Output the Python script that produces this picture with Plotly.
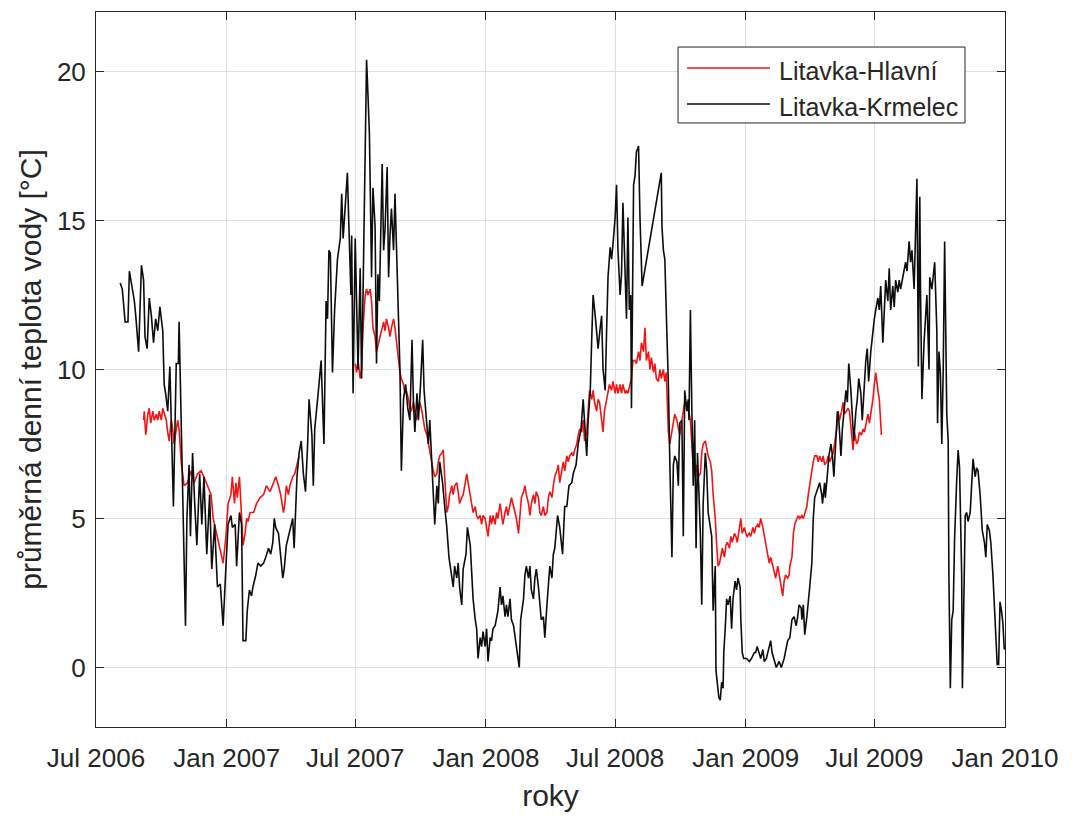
import pandas as pd
import plotly.graph_objects as go

# Daily mean water temperature, sampled every few days.
# Days are counted from the start of the record (1 Jul 2006).
ORIGIN = "2006-07-01"

krmelec_day = [
    34, 37, 41, 45, 47, 51, 54, 56, 60, 64, 67, 69, 72, 75, 78, 81, 84, 87, 90, 94,
    96, 98, 101, 104, 107, 109, 113, 116, 117, 120, 122, 124, 126, 128, 131, 133, 136, 139, 142, 146,
    149, 152, 156, 160, 163, 167, 171, 175, 179, 183, 186, 190, 192, 196, 198, 202, 205, 207, 211, 213,
    216, 219, 221, 225, 228, 232, 236, 239, 243, 246, 249, 251, 253, 257, 260, 263, 265, 268, 271, 274,
    277, 279, 281, 283, 286, 289, 292, 295, 298, 300, 304, 306, 308, 312, 314, 317, 319, 321, 324, 326,
    328, 330, 333, 336, 340, 344, 346, 348, 351, 354, 356, 359, 360, 362, 365, 367, 369, 372, 374, 376,
    379, 381, 383, 385, 387, 388, 390, 393, 395, 397, 399, 401, 403, 405, 407, 410, 412, 414, 416, 419,
    421, 423, 426, 428, 430, 433, 436, 439, 442, 445, 447, 449, 452, 454, 457, 460, 462, 466, 468, 470,
    473, 475, 477, 480, 482, 484, 488, 491, 494, 497, 501, 503, 505, 508, 510, 512, 515, 517, 521, 523,
    527, 529, 531, 534, 536, 538, 541, 543, 545, 548, 550, 552, 555, 557, 559, 562, 564, 566, 569, 571,
    573, 576, 578, 580, 583, 585, 588, 590, 592, 596, 598, 602, 604, 606, 609, 611, 613, 616, 618, 620,
    623, 625, 627, 630, 632, 635, 637, 639, 642, 644, 646, 650, 653, 657, 660, 663, 666, 670, 672, 676,
    679, 683, 686, 689, 691, 693, 696, 698, 700, 703, 705, 707, 710, 712, 714, 717, 719, 721, 724, 726,
    728, 731, 733, 735, 738, 740, 742, 745, 747, 749, 751, 753, 754, 757, 759, 761, 764, 766, 769, 796,
    797, 799, 801, 804, 806, 808, 811, 813, 815, 818, 820, 822, 825, 827, 829, 832, 834, 835, 837, 839,
    841, 843, 845, 847, 849, 851, 853, 855, 858, 860, 862, 865, 867, 869, 872, 873, 875, 877, 879, 881,
    883, 884, 886, 888, 890, 893, 895, 897, 900, 902, 904, 907, 908, 910, 912, 916, 920, 923, 927, 929,
    931, 934, 936, 939, 941, 944, 947, 950, 952, 955, 958, 962, 965, 969, 971, 974, 977, 980, 983, 986,
    988, 990, 993, 994, 996, 998, 1001, 1003, 1005, 1008, 1010, 1012, 1015, 1017, 1019, 1022, 1023, 1026, 1027, 1030,
    1032, 1035, 1037, 1039, 1042, 1044, 1046, 1049, 1051, 1053, 1056, 1058, 1060, 1063, 1065, 1067, 1070, 1072, 1074, 1077,
    1079, 1081, 1084, 1086, 1088, 1091, 1093, 1096, 1098, 1101, 1103, 1105, 1108, 1110, 1112, 1115, 1117, 1119, 1122, 1124,
    1126, 1129, 1131, 1133, 1137, 1140, 1142, 1145, 1147, 1149, 1152, 1154, 1156, 1158, 1160, 1161, 1163, 1166, 1168, 1170,
    1173, 1174, 1177, 1179, 1181, 1184, 1185, 1187, 1189, 1191, 1193, 1195, 1198, 1200, 1201, 1203, 1205, 1207, 1209, 1212,
    1214, 1216, 1219, 1220, 1222, 1224, 1226, 1228, 1231, 1233, 1235, 1238, 1240, 1242, 1245, 1248, 1251, 1253, 1255, 1258,
    1260, 1263, 1265, 1267, 1269, 1271, 1273, 1275, 1277, 1279,
]
krmelec_temp = [
    12.9, 12.7, 11.6, 11.6, 13.3, 12.8, 12.3, 11.8, 10.6, 13.5, 13.0, 11.1, 10.7, 12.4, 11.8, 10.9, 11.7, 11.3, 12.1, 11.3,
    9.5, 9.2, 8.6, 10.1, 7.1, 5.4, 10.2, 10.2, 11.6, 8.3, 5.8, 4.4, 1.4, 5.0, 6.8, 4.4, 7.2, 5.5, 4.1, 6.5,
    4.8, 6.4, 3.8, 5.8, 3.3, 4.8, 2.7, 2.8, 1.4, 3.4, 4.8, 5.1, 4.7, 4.8, 3.4, 5.2, 4.8, 0.9, 0.9, 1.9,
    2.6, 2.4, 2.7, 3.1, 3.5, 3.4, 3.5, 3.7, 4.0, 3.8, 4.2, 5.0, 4.7, 4.5, 3.7, 3.0, 3.3, 4.1, 4.4, 4.7,
    5.0, 4.0, 5.1, 6.4, 7.2, 7.6, 6.5, 5.9, 7.5, 9.0, 7.8, 6.1, 8.0, 8.9, 9.5, 10.3, 8.5, 7.5, 12.3, 11.7,
    14.0, 13.9, 9.9, 12.0, 13.7, 14.4, 15.9, 14.4, 15.5, 16.6, 14.9, 12.5, 14.5, 9.2, 14.4, 12.5, 10.0, 13.4, 9.7, 12.5,
    17.0, 20.4, 19.2, 17.9, 14.8, 13.1, 16.1, 14.8, 10.2, 13.2, 12.3, 14.4, 16.9, 14.0, 14.7, 16.8, 13.1, 14.5, 15.4, 14.0,
    15.9, 14.2, 12.0, 10.0, 6.6, 9.0, 9.5, 8.7, 8.3, 11.0, 8.9, 7.9, 9.2, 8.3, 9.5, 11.0, 9.3, 8.0, 7.5, 8.3,
    6.8, 5.8, 4.8, 6.1, 5.5, 6.9, 6.2, 5.4, 4.7, 3.7, 3.1, 2.7, 3.4, 3.0, 3.5, 2.7, 2.1, 3.3, 3.8, 4.7,
    4.1, 3.0, 2.3, 1.6, 1.3, 0.3, 1.0, 0.7, 1.2, 0.7, 1.3, 0.2, 1.0, 0.9, 1.3, 1.4, 1.6, 1.9, 2.7, 2.1,
    2.4, 1.7, 2.1, 1.7, 2.3, 1.6, 1.4, 1.0, 0.7, 0.0, 1.6, 2.3, 3.1, 3.4, 3.0, 3.4, 2.6, 2.3, 3.0, 3.3,
    2.7, 2.0, 1.6, 1.7, 1.0, 2.1, 2.9, 3.4, 3.0, 3.8, 4.0, 5.1, 4.7, 3.8, 5.4, 5.4, 6.1, 6.2, 6.5, 6.8,
    7.5, 8.0, 9.0, 8.0, 7.1, 8.3, 9.3, 11.0, 12.5, 11.8, 11.1, 10.7, 11.4, 11.8, 10.0, 9.3, 11.3, 13.1, 14.1, 13.7,
    14.2, 15.1, 16.2, 14.0, 12.5, 13.2, 15.6, 13.1, 11.7, 15.1, 12.0, 12.5, 8.7, 16.2, 16.5, 17.3, 17.5, 15.1, 12.8, 16.6,
    14.8, 14.0, 13.7, 11.1, 9.5, 6.9, 3.7, 6.8, 7.1, 6.9, 6.1, 8.2, 8.3, 4.4, 9.3, 8.6, 9.0, 8.3, 12.0, 8.7,
    6.1, 8.3, 4.0, 7.2, 5.8, 4.5, 2.1, 5.5, 7.2, 6.6, 5.2, 4.7, 4.4, 1.9, 3.4, -0.1, -0.7, -1.0, -1.1, -0.5,
    -0.7, 0.5, 1.3, 2.3, 2.1, 2.4, 1.3, 2.3, 2.9, 2.6, 3.0, 2.7, 1.6, 0.5, 0.3, 0.3, 0.2, 0.3, 0.5, 0.5,
    0.7, 0.5, 0.3, 0.6, 0.2, 0.3, 0.6, 0.9, 0.5, 0.2, 0.0, 0.2, 0.0, 0.3, 0.5, 0.9, 1.0, 1.6, 1.7, 1.4,
    1.7, 2.1, 2.0, 1.6, 2.1, 1.1, 1.7, 2.1, 2.7, 3.5, 5.0, 5.7, 5.9, 6.1, 6.2, 5.8, 5.5, 6.2, 5.7, 6.5,
    7.1, 7.5, 7.1, 6.4, 7.5, 8.6, 8.3, 7.1, 8.0, 8.6, 9.3, 8.9, 10.2, 9.3, 8.3, 7.6, 8.6, 9.0, 9.7, 9.2,
    8.3, 9.3, 10.3, 10.7, 9.6, 10.6, 11.1, 11.7, 12.0, 12.4, 12.0, 12.8, 10.9, 12.3, 13.0, 12.3, 13.4, 12.0, 12.8, 12.1,
    13.0, 12.6, 13.0, 12.7, 13.2, 13.6, 13.3, 14.3, 13.6, 14.0, 12.7, 14.8, 16.4, 10.1, 15.8, 12.7, 9.0, 10.9, 11.8, 12.5,
    10.0, 13.1, 12.7, 13.1, 13.6, 11.3, 8.2, 10.6, 9.9, 7.5, 10.0, 14.3, 8.5, 7.6, 3.1, -0.7, 1.6, 1.9, 4.3, 6.3,
    7.3, 6.7, 3.1, -0.7, 2.2, 5.1, 5.2, 4.9, 5.2, 6.3, 7.0, 6.4, 6.7, 6.6, 5.8, 4.6, 4.2, 3.7, 4.8, 4.6,
    4.2, 3.1, 1.9, 0.9, 0.1, 0.1, 2.2, 1.9, 1.5, 0.6,
]

# None marks the spring 2007 outage at Hlavní (no readings, no line)
hlavni_day = [
    67, 68, 70, 73, 75, 77, 80, 82, 85, 87, 89, 92, 94, 96, 99, 101, 103, 106, 108, 110,
    113, 115, 117, 120, 124, 129, 134, 138, 143, 148, 152, 157, 162, 165, 168, 171, 174, 177, 179, 183,
    186, 190, 192, 195, 197, 199, 202, 204, 206, 207, 210, 212, 214, 217, 222, 226, 231, 236, 240, 245,
    250, 253, 257, 260, 264, 266, 268, 271, 273, 277, 280, 283, 286, 320, 365, 367, 369, 372, 374, 376,
    379, 381, 383, 386, 388, 390, 393, 395, 398, 400, 402, 405, 407, 409, 412, 414, 416, 419, 421, 423,
    426, 428, 430, 433, 435, 437, 440, 442, 444, 447, 449, 451, 454, 456, 459, 461, 463, 466, 468, 470,
    473, 475, 477, 480, 482, 484, 487, 489, 491, 494, 496, 498, 501, 503, 505, 508, 510, 512, 515, 517,
    520, 522, 524, 527, 529, 531, 534, 536, 538, 541, 543, 545, 548, 550, 552, 555, 557, 559, 562, 564,
    566, 569, 571, 573, 576, 578, 580, 583, 585, 588, 590, 592, 595, 597, 599, 602, 604, 606, 609, 611,
    613, 616, 618, 620, 623, 625, 627, 630, 632, 635, 637, 639, 642, 644, 646, 649, 651, 653, 656, 658,
    660, 663, 665, 667, 670, 672, 674, 677, 679, 681, 684, 686, 688, 691, 693, 695, 698, 700, 702, 705,
    707, 709, 712, 714, 716, 719, 721, 723, 726, 728, 731, 733, 735, 738, 740, 742, 745, 747, 749, 752,
    754, 756, 759, 761, 764, 766, 768, 771, 773, 775, 778, 780, 782, 785, 787, 789, 792, 794, 796, 799,
    801, 803, 806, 808, 811, 813, 815, 818, 820, 822, 825, 827, 829, 832, 834, 837, 839, 841, 844, 846,
    848, 851, 853, 855, 858, 860, 862, 865, 867, 869, 872, 874, 876, 878, 880, 882, 885, 887, 889, 892,
    894, 896, 899, 901, 903, 906, 908, 910, 913, 915, 917, 920, 922, 925, 927, 929, 932, 934, 936, 939,
    941, 943, 946, 948, 950, 953, 955, 957, 960, 962, 964, 967, 969, 971, 974, 976, 977, 980, 982, 984,
    987, 989, 991, 994, 996, 998, 1001, 1003, 1005, 1008, 1010, 1012, 1015, 1017, 1019, 1022, 1024, 1026, 1029, 1031,
    1033, 1036, 1038, 1040, 1043, 1045, 1047, 1050, 1052, 1054, 1057, 1059, 1061, 1064, 1066, 1068, 1071, 1073, 1075, 1078,
    1080, 1082, 1085, 1087, 1089, 1092, 1094, 1096, 1098, 1101, 1103, 1104, 1105, 1106,
]
hlavni_temp = [
    8.3, 8.6, 7.8, 8.5, 8.7, 8.2, 8.6, 8.3, 8.5, 8.3, 8.6, 8.3, 8.7, 8.5, 8.3, 7.9, 7.6, 8.3, 8.0, 7.5,
    7.9, 8.3, 8.0, 6.9, 6.1, 6.2, 6.6, 6.2, 6.5, 6.6, 6.4, 6.1, 5.8, 5.0, 4.7, 4.4, 4.1, 3.8, 3.5, 4.4,
    5.5, 5.8, 6.4, 5.5, 6.2, 5.7, 6.4, 5.5, 4.7, 4.1, 4.5, 5.0, 4.9, 5.2, 5.2, 5.5, 5.7, 5.8, 6.1, 5.9,
    6.2, 6.4, 6.1, 5.8, 5.2, 5.5, 6.1, 5.8, 6.1, 6.4, 6.5, 6.8, 7.1, None, 10.2, 9.9, 10.3, 9.7, 10.0, 11.4,
    12.5, 12.7, 12.5, 12.7, 12.3, 11.4, 11.1, 10.6, 10.9, 11.1, 11.4, 11.6, 11.3, 11.7, 11.4, 11.1, 11.4, 11.7, 11.4, 10.9,
    10.3, 9.9, 9.7, 9.5, 9.2, 9.3, 9.0, 8.7, 8.6, 8.9, 8.6, 8.3, 8.6, 8.9, 8.6, 8.3, 8.0, 7.8, 7.5, 7.2,
    6.9, 6.6, 6.4, 6.5, 6.9, 7.1, 7.2, 7.3, 6.4, 5.2, 5.4, 5.8, 6.1, 5.8, 6.1, 6.2, 5.9, 5.5, 5.7, 5.8,
    6.2, 6.5, 6.2, 5.8, 5.5, 5.2, 5.4, 5.1, 5.0, 5.1, 4.8, 5.1, 5.0, 4.7, 4.4, 5.1, 4.8, 5.1, 4.8, 5.2,
    5.0, 5.5, 5.1, 4.8, 5.2, 5.4, 5.1, 5.5, 5.7, 5.4, 5.2, 5.0, 4.5, 5.2, 5.7, 5.9, 6.1, 5.8, 5.5, 5.1,
    5.5, 5.8, 5.5, 5.9, 5.7, 5.2, 5.1, 5.4, 5.1, 5.2, 5.7, 5.9, 5.7, 6.1, 6.4, 6.6, 6.8, 6.2, 6.6, 6.9,
    6.6, 7.1, 6.9, 7.1, 7.2, 7.1, 7.3, 7.5, 7.8, 8.0, 7.9, 8.3, 7.6, 7.9, 8.6, 9.3, 9.0, 9.3, 8.9, 8.6,
    9.0, 8.9, 8.3, 7.9, 8.6, 9.0, 9.2, 9.5, 9.3, 9.6, 9.2, 9.5, 9.2, 9.5, 9.2, 9.5, 9.2, 9.3, 9.2, 9.5,
    9.7, 10.3, 10.3, 10.2, 10.6, 10.3, 10.9, 10.6, 11.4, 10.3, 10.6, 10.0, 10.4, 9.9, 10.2, 9.7, 9.6, 10.0, 9.7, 10.0,
    9.6, 9.9, 7.9, 7.5, 8.0, 8.3, 8.5, 8.3, 8.0, 7.8, 8.3, 8.6, 8.9, 8.9, 8.6, 8.3, 7.5, 6.8, 6.4, 6.8,
    6.4, 6.5, 7.2, 7.5, 7.6, 7.3, 7.1, 6.9, 6.6, 5.8, 5.0, 4.1, 3.4, 3.5, 3.7, 4.0, 3.7, 4.1, 4.2, 4.0,
    4.4, 4.2, 4.5, 4.4, 4.2, 4.7, 5.0, 4.5, 4.7, 4.5, 4.4, 4.5, 4.4, 4.7, 4.5, 4.7, 4.8, 4.7, 5.0, 4.7,
    4.4, 4.1, 3.8, 3.5, 3.7, 3.4, 3.1, 3.0, 3.4, 3.1, 2.7, 2.4, 2.9, 3.1, 3.0, 3.1, 3.4, 3.7, 4.5, 4.8,
    5.0, 5.1, 5.0, 5.1, 5.0, 5.2, 5.4, 5.8, 6.2, 6.6, 6.9, 7.1, 7.1, 6.9, 7.1, 6.9, 7.1, 6.8, 6.9, 7.1,
    6.9, 7.1, 7.2, 7.5, 8.0, 8.6, 8.3, 8.6, 8.9, 8.5, 8.6, 8.7, 8.6, 7.9, 7.3, 7.9, 7.5, 7.6, 7.9, 7.8,
    8.0, 7.9, 8.3, 8.5, 8.2, 8.6, 9.0, 9.5, 9.9, 9.3, 9.0, 8.6, 8.0, 7.8,
]

tick_dates = ["2006-07-01", "2007-01-01", "2007-07-01", "2008-01-01",
              "2008-07-01", "2009-01-01", "2009-07-01", "2010-01-01"]
tick_text = ["Jul 2006", "Jan 2007", "Jul 2007", "Jan 2008",
             "Jul 2008", "Jan 2009", "Jul 2009", "Jan 2010"]
y_ticks = [0, 5, 10, 15, 20]

series_names = ["Litavka-Hlavní", "Litavka-Krmelec"]
series_colors = ["#f21515", "#0d0d0d"]
LINE_W = 1.6


def to_dates(days):
    return pd.Timestamp(ORIGIN) + pd.to_timedelta(days, unit="D")


fig = go.Figure()
fig.add_trace(go.Scatter(
    x=to_dates(hlavni_day), y=hlavni_temp, mode="lines", name=series_names[0],
    line=dict(color=series_colors[0], width=LINE_W), connectgaps=False, showlegend=False,
))
fig.add_trace(go.Scatter(
    x=to_dates(krmelec_day), y=krmelec_temp, mode="lines", name=series_names[1],
    line=dict(color=series_colors[1], width=LINE_W), showlegend=False,
))

FONT = "Liberation Sans, Arial, sans-serif"
AXIS_COLOR = "#262626"
GRID_COLOR = "#dfdfdf"

fig.update_layout(
    width=1072, height=817,
    margin=dict(l=96, r=67, t=12, b=90),
    paper_bgcolor="white", plot_bgcolor="white",
    font=dict(family=FONT, size=26, color=AXIS_COLOR),
    showlegend=False,
)
fig.update_xaxes(
    range=[tick_dates[0], tick_dates[-1]], automargin=False,
    tickmode="array", tickvals=tick_dates, ticktext=tick_text,
    ticks="inside", ticklen=8, tickcolor=AXIS_COLOR, tickwidth=1,
    showline=True, linecolor=AXIS_COLOR, linewidth=1, mirror="allticks",
    showgrid=True, gridcolor=GRID_COLOR, gridwidth=1, zeroline=False,
    tickfont=dict(size=26), ticklabelstandoff=8,
    title=dict(text="roky", font=dict(size=30), standoff=12),
)
fig.update_yaxes(
    range=[-2, 22], automargin=False,
    tickmode="array", tickvals=y_ticks,
    ticks="inside", ticklen=8, tickcolor=AXIS_COLOR, tickwidth=1,
    showline=True, linecolor=AXIS_COLOR, linewidth=1, mirror="allticks",
    showgrid=True, gridcolor=GRID_COLOR, gridwidth=1, zeroline=False,
    tickfont=dict(size=26), ticklabelstandoff=4,
    title=dict(text="průměrná denní teplota vody [°C]", font=dict(size=30), standoff=6),
)

# Legend box drawn in paper coordinates (upper right of the axes)
legend_x0, legend_x1 = 0.6403, 0.956
legend_y0, legend_y1 = 0.8448, 0.951
fig.add_shape(type="rect", xref="paper", yref="paper",
              x0=legend_x0, x1=legend_x1, y0=legend_y0, y1=legend_y1,
              line=dict(color=AXIS_COLOR, width=1), fillcolor="white", layer="above")
for i, (name, color) in enumerate(zip(series_names, series_colors)):
    row_y = 0.9217 - i * 0.0504
    fig.add_shape(type="line", xref="paper", yref="paper",
                  x0=0.6502, x1=0.7415, y0=row_y, y1=row_y,
                  line=dict(color=color, width=1.3), layer="above")
    fig.add_annotation(xref="paper", yref="paper", x=0.749, y=row_y - 0.004,
                       xanchor="left", yanchor="middle", text=name, showarrow=False,
                       font=dict(family=FONT, size=25, color=AXIS_COLOR))

fig.write_html("out.html")
